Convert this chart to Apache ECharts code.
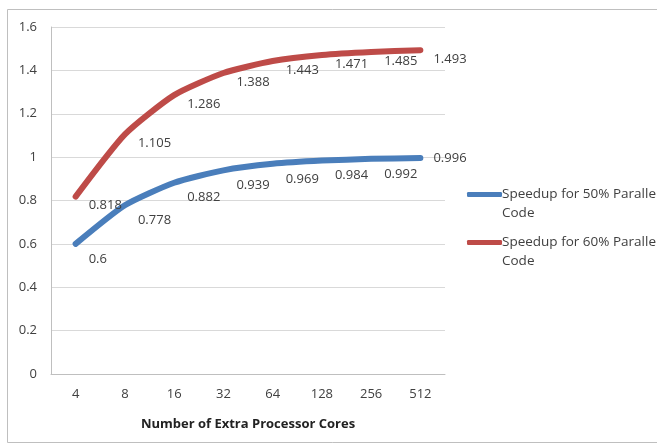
<!DOCTYPE html>
<html><head><meta charset="utf-8">
<script src="https://cdn.jsdelivr.net/npm/echarts@6/dist/echarts.min.js"></script>
<style>html,body{margin:0;padding:0;background:#fff}#c{width:657px;height:445px}</style>
</head><body><div id="c"></div>
<script>
var categories = ['4','8','16','32','64','128','256','512'];
var speedup50 = [0.6,0.778,0.882,0.939,0.969,0.984,0.992,0.996];
var speedup60 = [0.818,1.105,1.286,1.388,1.443,1.471,1.485,1.493];
var seriesNames = ['Speedup for 50% Parallel\nCode','Speedup for 60% Parallel\nCode'];
var font = '"Open Sans", "Noto Sans", sans-serif';
var chart = echarts.init(document.getElementById('c'));
function blueData(){
  return speedup50.map(function(v,i){
    if(i===speedup50.length-1) return {value:v,label:{offset:[8,0]}};
    return v;
  });
}
chart.setOption({
  animation:false,
  graphic:[{type:'rect',shape:{x:7.5,y:9.5,width:700,height:433},style:{fill:'none',stroke:'#bfbfbf',lineWidth:1}}],
  grid:{left:51,right:212,top:27,bottom:71},
  legend:{orient:'vertical',left:467,top:166,padding:0,itemWidth:35,itemHeight:5,itemGap:-9,
    icon:'roundRect',
    formatter:function(n){return ' \n'+n;},
    textStyle:{fontFamily:font,fontSize:13.5,color:'#404040',lineHeight:19,padding:[0,0,0,-5]},
    data:seriesNames},
  xAxis:{type:'category',data:categories,boundaryGap:true,
    axisLine:{lineStyle:{color:'#bfbfbf'}},axisTick:{show:false},
    axisLabel:{fontFamily:font,fontSize:13,color:'#404040',margin:14},
    name:'Number of Extra Processor Cores',nameLocation:'middle',nameGap:44,
    nameTextStyle:{fontFamily:font,fontSize:13,fontWeight:'bold',color:'#222'}},
  yAxis:{type:'value',min:0,max:1.6,interval:0.2,
    axisLine:{show:true,lineStyle:{color:'#bfbfbf'}},axisTick:{show:false},
    splitLine:{lineStyle:{color:'#d9d9d9'}},
    axisLabel:{fontFamily:font,fontSize:13,color:'#404040',margin:14}},
  series:[
    {name:seriesNames[0],type:'line',data:blueData(),symbol:'circle',symbolSize:0.1,showSymbol:true,smooth:0.2,
     lineStyle:{color:'#4a7ebb',width:6,cap:'round'},itemStyle:{color:'#4a7ebb'},
     label:{show:true,position:'right',offset:[8,15],fontFamily:font,fontSize:13,color:'#404040'}},
    {name:seriesNames[1],type:'line',data:speedup60,symbol:'circle',symbolSize:0.1,showSymbol:true,smooth:0.2,
     lineStyle:{color:'#be4b48',width:6,cap:'round'},itemStyle:{color:'#be4b48'},
     label:{show:true,position:'right',offset:[8,9],fontFamily:font,fontSize:13,color:'#404040'}}
  ]
});
</script></body></html>
